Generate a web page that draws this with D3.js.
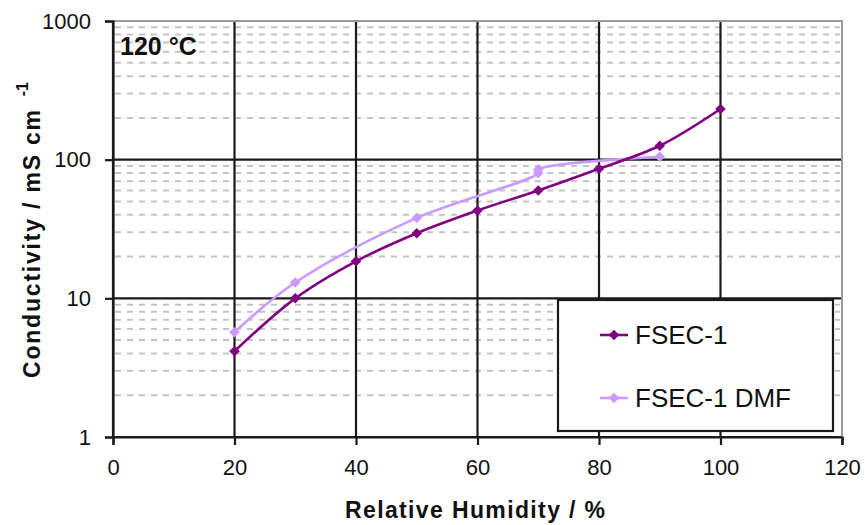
<!DOCTYPE html>
<html>
<head>
<meta charset="utf-8">
<script src="https://cdn.jsdelivr.net/npm/d3@7"></script>
<style>
  html, body { margin: 0; padding: 0; background: #fff; }
  svg { display: block; font-family: "Liberation Sans", Arial, sans-serif; }
</style>
</head>
<body>
<svg id="chart" width="865" height="525"></svg>
<script>
// Relative humidity (%) and conductivity (mS cm^-1) at 120 °C
const fsecRH   = [20, 30, 40, 50, 60, 70, 80, 90, 100];
const fsecCond = [4.15, 10.0, 18.5, 29.5, 43, 60, 86, 126, 232];

const dmfRH    = [20, 30, 50, 70, 70, 90];
const dmfCond  = [5.7, 13.0, 38, 80, 85, 105];

const seriesNames  = ["FSEC-1", "FSEC-1 DMF"];
const seriesColors = ["#800080", "#cc99ff"];

const xTicks = [0, 20, 40, 60, 80, 100, 120];
const yTicks = [1, 10, 100, 1000];

const svg = d3.select("#chart");

const plotL = 113, plotR = 842, plotT = 21, plotB = 437;

const x = d3.scaleLinear().domain([0, 120]).range([plotL, plotR]);
const y = d3.scaleLog().domain([1, 1000]).range([plotB, plotT]);

// minor dashed gridlines at 2..9 of each decade
const minor = [];
for (let d = 1; d < 1000; d *= 10) for (let k = 2; k <= 9; k++) minor.push(d * k);

const grid = svg.append("g");
grid.selectAll("line.minor").data(minor).join("line")
  .attr("class", "minor")
  .attr("x1", plotL + 2).attr("x2", plotR - 2)
  .attr("y1", d => y(d)).attr("y2", d => y(d))
  .attr("stroke", "#c4c4c4").attr("stroke-width", 2)
  .attr("stroke-dasharray", "6,6");

// major gridlines
grid.selectAll("line.hmaj").data(yTicks.slice(0, 3)).join("line")
  .attr("class", "hmaj")
  .attr("x1", plotL).attr("x2", plotR)
  .attr("y1", d => y(d)).attr("y2", d => y(d))
  .attr("stroke", "#1a1a1a").attr("stroke-width", 2.2);
grid.selectAll("line.vmaj").data(xTicks.slice(0, 6)).join("line")
  .attr("class", "vmaj")
  .attr("x1", d => x(d)).attr("x2", d => x(d))
  .attr("y1", plotT).attr("y2", plotB)
  .attr("stroke", "#1a1a1a").attr("stroke-width", 2.2);

// plot frame: grey top and right edges
svg.append("path")
  .attr("d", `M${plotL},${plotT}H${plotR}V${plotB}`)
  .attr("fill", "none").attr("stroke", "#9a9a9a").attr("stroke-width", 2);

// axes
const xAxis = d3.axisBottom(x).tickValues(xTicks).tickSize(8).tickPadding(14).tickFormat(d3.format("d"));
const yAxis = d3.axisLeft(y).tickValues(yTicks).tickSize(8).tickPadding(14).tickFormat(d3.format("d"));

const gx = svg.append("g").attr("transform", `translate(0,${plotB})`).call(xAxis);
const gy = svg.append("g").attr("transform", `translate(${plotL},0)`).call(yAxis);
[gx, gy].forEach(g => {
  g.select(".domain").attr("stroke", "#1a1a1a").attr("stroke-width", 2.2);
  g.selectAll(".tick line").attr("stroke", "#1a1a1a").attr("stroke-width", 2.2);
  g.selectAll(".tick text")
    .attr("fill", "#111").attr("font-size", 22)
    .attr("font-family", "Liberation Sans, Arial, sans-serif");
});
gy.selectAll(".tick text").attr("x", -22);

// series
const line = d3.line().curve(d3.curveCatmullRom.alpha(0.5))
  .x(d => x(d[0])).y(d => y(d[1]));
const diamond = d3.symbol().type(d3.symbolSquare).size(56);

const series = [
  { name: seriesNames[1], color: seriesColors[1], data: d3.zip(dmfRH, dmfCond) },
  { name: seriesNames[0], color: seriesColors[0], data: d3.zip(fsecRH, fsecCond) }
];

series.forEach(s => {
  const g = svg.append("g");
  g.append("path").datum(s.data).attr("d", line)
    .attr("fill", "none").attr("stroke", s.color).attr("stroke-width", 2.6);
  g.selectAll("path.pt").data(s.data).join("path")
    .attr("class", "pt")
    .attr("d", diamond)
    .attr("transform", d => `translate(${x(d[0])},${y(d[1])}) rotate(45)`)
    .attr("fill", s.color);
});

// temperature label
svg.append("text").attr("x", 120).attr("y", 55)
  .attr("font-size", 25).attr("font-weight", "bold").attr("fill", "#111")
  .text("120 °C");

// legend
const lg = svg.append("g");
lg.append("rect").attr("x", 558).attr("y", 300).attr("width", 275).attr("height", 131)
  .attr("fill", "#fff").attr("stroke", "#1a1a1a").attr("stroke-width", 2.2);
const legendRows = [
  { name: seriesNames[0], color: seriesColors[0], cy: 335 },
  { name: seriesNames[1], color: seriesColors[1], cy: 398 }
];
legendRows.forEach(r => {
  lg.append("line").attr("x1", 600).attr("x2", 628).attr("y1", r.cy).attr("y2", r.cy)
    .attr("stroke", r.color).attr("stroke-width", 2.6);
  lg.append("path").attr("d", diamond)
    .attr("transform", `translate(614,${r.cy}) rotate(45)`).attr("fill", r.color);
  lg.append("text").attr("x", 635).attr("y", r.cy + 9)
    .attr("font-size", 26).attr("fill", "#111").text(r.name);
});

// axis titles
svg.append("text").attr("x", 345).attr("y", 518)
  .attr("font-size", 23).attr("font-weight", "bold").attr("fill", "#111")
  .attr("textLength", 260).attr("lengthAdjust", "spacing")
  .text("Relative Humidity / %");

const yt = svg.append("text")
  .attr("transform", "translate(40,378) rotate(-90)")
  .attr("font-size", 23).attr("font-weight", "bold").attr("fill", "#111");
yt.append("tspan").attr("textLength", 268).attr("lengthAdjust", "spacing")
  .text("Conductivity / mS cm");
yt.append("tspan").attr("dx", 12).attr("dy", -12).attr("font-size", 16).text("-1");
</script>
</body>
</html>
